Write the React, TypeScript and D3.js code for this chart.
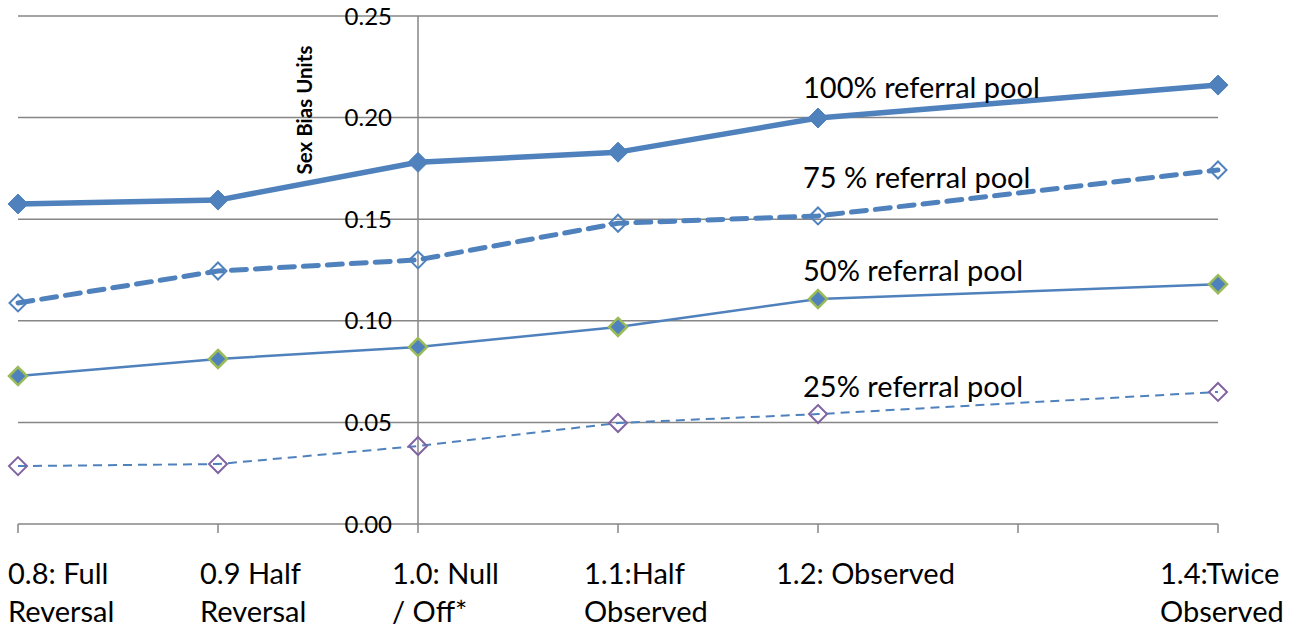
import { useEffect, useRef } from "react";
import * as d3 from "d3";

// categories (1.3 has no label and no data)
const categories = ["0.8", "0.9", "1.0", "1.1", "1.2", "1.3", "1.4"];
const categoryLabels = [
  ["0.8: Full", "Reversal"],
  ["0.9 Half", "Reversal"],
  ["1.0: Null", "/ Off*"],
  ["1.1:Half", "Observed"],
  ["1.2: Observed"],
  [],
  ["1.4:Twice", "Observed"],
];
const dataCategories = ["0.8", "0.9", "1.0", "1.1", "1.2", "1.4"];

const pool100 = [0.1575, 0.1594, 0.178, 0.183, 0.1998, 0.216];
const pool75 = [0.1088, 0.1245, 0.130, 0.148, 0.1516, 0.1742];
const pool50 = [0.0728, 0.0812, 0.0871, 0.097, 0.1107, 0.118];
const pool25 = [0.0285, 0.0295, 0.0384, 0.0497, 0.0541, 0.065];

const yTicks = [0, 0.05, 0.1, 0.15, 0.2, 0.25];
const seriesNames = [
  "100% referral pool",
  "75 % referral pool",
  "50% referral pool",
  "25% referral pool",
];

const FONT = "Lato, 'Open Sans', sans-serif";
const BLUE = "#4f81bd";

export default function App() {
  const svgRef = useRef<SVGSVGElement>(null);

  useEffect(() => {
    document.body.style.margin = "0";
    if (!svgRef.current) return;
    const svg = d3.select(svgRef.current);
    svg.selectAll("*").remove();

    const width = 1302;
    const height = 629;
    const left = 18;
    const right = 1218;
    const top = 16;
    const bottom = 524;

    svg.attr("width", width).attr("height", height);

    const x = d3.scalePoint<string>().domain(categories).range([left, right]);
    const y = d3.scaleLinear().domain([0, 0.25]).range([bottom, top]);

    // gridlines
    svg
      .append("g")
      .selectAll("line")
      .data(yTicks.slice(1))
      .join("line")
      .attr("x1", left)
      .attr("x2", right)
      .attr("y1", (d) => y(d))
      .attr("y2", (d) => y(d))
      .attr("stroke", "#868686")
      .attr("stroke-width", 1.5);

    // x axis line + ticks
    svg
      .append("line")
      .attr("x1", left)
      .attr("x2", right)
      .attr("y1", bottom)
      .attr("y2", bottom)
      .attr("stroke", "#868686")
      .attr("stroke-width", 1.5);
    svg
      .append("g")
      .selectAll("line")
      .data(categories)
      .join("line")
      .attr("x1", (d) => x(d)!)
      .attr("x2", (d) => x(d)!)
      .attr("y1", bottom)
      .attr("y2", bottom + 9)
      .attr("stroke", "#868686")
      .attr("stroke-width", 1.5);

    // y axis at 1.0
    const yAxisX = x("1.0")!;
    svg
      .append("line")
      .attr("x1", yAxisX)
      .attr("x2", yAxisX)
      .attr("y1", top)
      .attr("y2", bottom)
      .attr("stroke", "#868686")
      .attr("stroke-width", 1.5);

    // y tick labels
    svg
      .append("g")
      .selectAll("text")
      .data(yTicks)
      .join("text")
      .attr("x", yAxisX - 26)
      .attr("y", (d) => y(d))
      .attr("dy", "0.36em")
      .attr("text-anchor", "end")
      .attr("font-family", FONT)
      .attr("font-size", 24)
      .attr("fill", "#000")
      .text((d) => d.toFixed(2));

    // y axis title
    svg
      .append("text")
      .attr("transform", `translate(${yAxisX - 106},110) rotate(-90)`)
      .attr("text-anchor", "middle")
      .attr("font-family", FONT)
      .attr("font-size", 20.5)
      .attr("font-weight", "bold")
      .text("Sex Bias Units");

    // x labels
    const xl = svg.append("g");
    categoryLabels.forEach((lines, i) => {
      if (!lines.length) return;
      const lx = x(categories[i])! - 10 - 8 * i;
      const t = xl
        .append("text")
        .attr("x", lx)
        .attr("y", 584)
        .attr("font-family", FONT)
        .attr("font-size", 29)
        .attr("fill", "#000");
      lines.forEach((ln, j) => {
        t.append("tspan")
          .attr("x", lx)
          .attr("dy", j === 0 ? 0 : 38)
          .text(ln);
      });
    });

    const diamond = (r: number) =>
      `M0,${-r}L${r},0L0,${r}L${-r},0Z`;

    const line = d3
      .line<number>()
      .x((_, i) => x(dataCategories[i])!)
      .y((d) => y(d));

    const series = [
      { data: pool100, w: 5.5, dash: null, cap: "butt", r: 10, fill: BLUE, stroke: BLUE, sw: 1 },
      { data: pool75, w: 5, dash: "15,9", cap: "round", r: 8.5, fill: "none", stroke: BLUE, sw: 2 },
      { data: pool50, w: 2.5, dash: null, cap: "butt", r: 9, fill: BLUE, stroke: "#9bbb59", sw: 2.5 },
      { data: pool25, w: 2, dash: "9,6", cap: "butt", r: 9, fill: "none", stroke: "#8064a2", sw: 2 },
    ];

    series.forEach((s) => {
      svg
        .append("path")
        .datum(s.data)
        .attr("d", line)
        .attr("fill", "none")
        .attr("stroke", BLUE)
        .attr("stroke-width", s.w)
        .attr("stroke-linecap", s.cap)
        .attr("stroke-linejoin", "round")
        .attr("stroke-dasharray", s.dash);
    });
    series.forEach((s) => {
      svg
        .append("g")
        .selectAll("path")
        .data(s.data)
        .join("path")
        .attr("transform", (d, i) => `translate(${x(dataCategories[i])},${y(d)})`)
        .attr("d", diamond(s.r))
        .attr("fill", s.fill)
        .attr("stroke", s.stroke)
        .attr("stroke-width", s.sw);
    });

    // series labels
    const labelY = [0.2097, 0.1654, 0.1195, 0.0625];
    svg
      .append("g")
      .selectAll("text")
      .data(seriesNames)
      .join("text")
      .attr("x", x("1.2")! - 15)
      .attr("y", (_, i) => y(labelY[i]))
      .attr("font-family", FONT)
      .attr("font-size", 29)
      .attr("fill", "#000")
      .text((d) => d);
  }, []);

  return <svg ref={svgRef}></svg>;
}
